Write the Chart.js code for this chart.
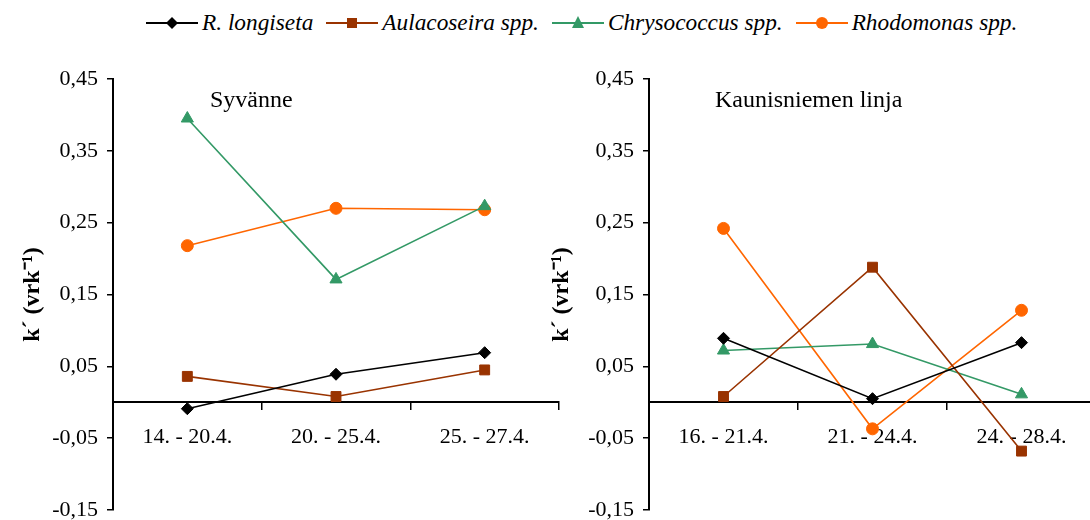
<!DOCTYPE html>
<html><head><meta charset="utf-8">
<script src="https://cdn.jsdelivr.net/npm/chart.js@4.4.0/dist/chart.umd.min.js"></script>
<style>
html,body{margin:0;padding:0;width:1090px;height:520px;overflow:hidden;background:#fff;}
canvas{position:absolute;top:0;}
#c1{left:0;}
#c2{left:540px;}
.ptitle{position:absolute;font-family:"Liberation Serif",serif;font-size:24px;line-height:26px;color:#000;white-space:nowrap;}
#legend{position:absolute;top:9px;left:146px;display:flex;align-items:center;font-family:"Liberation Serif",serif;font-style:italic;font-size:23.3px;color:#000;white-space:nowrap;}
#legend .item{display:flex;align-items:center;margin-right:13px;}
#legend svg{margin-right:4px;}
</style>
</head><body>
<div id="legend"></div>
<canvas id="c1" width="570" height="540"></canvas>
<canvas id="c2" width="580" height="540"></canvas>
<div class="ptitle" style="left:210px;top:86px;">Syvänne</div>
<div class="ptitle" style="left:715px;top:86px;">Kaunisniemen linja</div>
<script>
// ---- data ----
const seriesNames = ['R. longiseta', 'Aulacoseira spp.', 'Chrysococcus spp.', 'Rhodomonas spp.'];
const leftCategories = ['14. - 20.4.', '20. - 25.4.', '25. - 27.4.'];
const rightCategories = ['16. - 21.4.', '21. - 24.4.', '24. - 28.4.'];
const yTickValues = [-0.15, -0.05, 0.05, 0.15, 0.25, 0.35, 0.45];
const yAxisTitle = 'k´ (vrk⁻¹)';

const leftLongiseta   = [-0.009, 0.039, 0.069];
const leftAulacoseira = [0.036, 0.008, 0.045];
const leftChrysococcus= [0.395, 0.171, 0.273];
const leftRhodomonas  = [0.218, 0.270, 0.268];

const rightLongiseta   = [0.089, 0.005, 0.083];
const rightAulacoseira = [0.008, 0.188, -0.068];
const rightChrysococcus= [0.072, 0.081, 0.011];
const rightRhodomonas  = [0.242, -0.037, 0.128];

// ---- styles ----
const colors = ['#000000', '#993300', '#339966', '#FF6600'];
const pointStyles = ['rectRot', 'rect', 'triangle', 'circle'];
const pointRadii = [6, 7, 7, 6];

function makeDatasets(valuesList) {
  return valuesList.map((vals, i) => ({
    label: seriesNames[i],
    data: vals,
    borderColor: colors[i],
    backgroundColor: colors[i],
    pointBackgroundColor: colors[i],
    pointBorderColor: colors[i],
    pointStyle: pointStyles[i],
    pointRadius: pointRadii[i],
    pointBorderWidth: 1,
    borderWidth: 1.6,
    tension: 0,
    fill: false
  }));
}

const serif = '"Liberation Serif", serif';

function makeChart(id, cats, valuesList, padLeft, axisX, padRight) {
  return new Chart(document.getElementById(id), {
    type: 'line',
    data: { labels: cats, datasets: makeDatasets(valuesList) },
    options: {
      responsive: false,
      animation: false,
      events: [],
      layout: { padding: { left: padLeft, top: 79, right: padRight, bottom: 30 } },
      plugins: { legend: { display: false }, tooltip: { enabled: false } },
      scales: {
        x: {
          type: 'category',
          position: { y: 0 },
          offset: true,
          grid: { offset: true, drawOnChartArea: false, drawTicks: true, tickLength: 7, color: '#000', lineWidth: 1.5 },
          border: { display: true, color: '#000', width: 2 },
          ticks: { color: '#000', font: { family: serif, size: 22 }, padding: 15, maxRotation: 0, autoSkip: false }
        },
        y: {
          type: 'linear',
          min: -0.15,
          max: 0.45,
          afterBuildTicks: (s) => { s.ticks = yTickValues.map(v => ({ value: v })); },
          afterFit: (s) => { s.width = axisX - padLeft; },
          grid: { drawOnChartArea: false, drawTicks: true, tickLength: 6, color: '#000', lineWidth: 1.5 },
          border: { display: true, color: '#000', width: 2 },
          ticks: { color: '#000', font: { family: serif, size: 22 }, padding: 9,
                   callback: (v) => v.toFixed(2).replace('.', ',') },
          title: { display: true, text: yAxisTitle, color: '#000', padding: 0,
                   font: { family: serif, size: 24, weight: 'bold' } }
        }
      }
    }
  });
}

makeChart('c1', leftCategories, [leftLongiseta, leftAulacoseira, leftChrysococcus, leftRhodomonas], 18, 113, 11);
makeChart('c2', rightCategories, [rightLongiseta, rightAulacoseira, rightChrysococcus, rightRhodomonas], 7, 109, 24);

// ---- legend (HTML, built from the series arrays) ----
function markerSvg(i) {
  const c = colors[i];
  let m = '';
  if (pointStyles[i] === 'rectRot') m = `<polygon points="26,5 32,11 26,17 20,11" fill="${c}"/>`;
  else if (pointStyles[i] === 'rect') m = `<rect x="21" y="6" width="10" height="10" fill="${c}"/>`;
  else if (pointStyles[i] === 'triangle') m = `<polygon points="26,4 32,16 20,16" fill="${c}"/>`;
  else m = `<circle cx="26" cy="11" r="6" fill="${c}"/>`;
  return `<svg width="52" height="22"><line x1="0" y1="11" x2="52" y2="11" stroke="${c}" stroke-width="2"/>${m}</svg>`;
}
const lg = document.getElementById('legend');
seriesNames.forEach((n, i) => {
  const d = document.createElement('div');
  d.className = 'item';
  d.innerHTML = markerSvg(i) + '<span>' + n + '</span>';
  lg.appendChild(d);
});
</script>
</body></html>
